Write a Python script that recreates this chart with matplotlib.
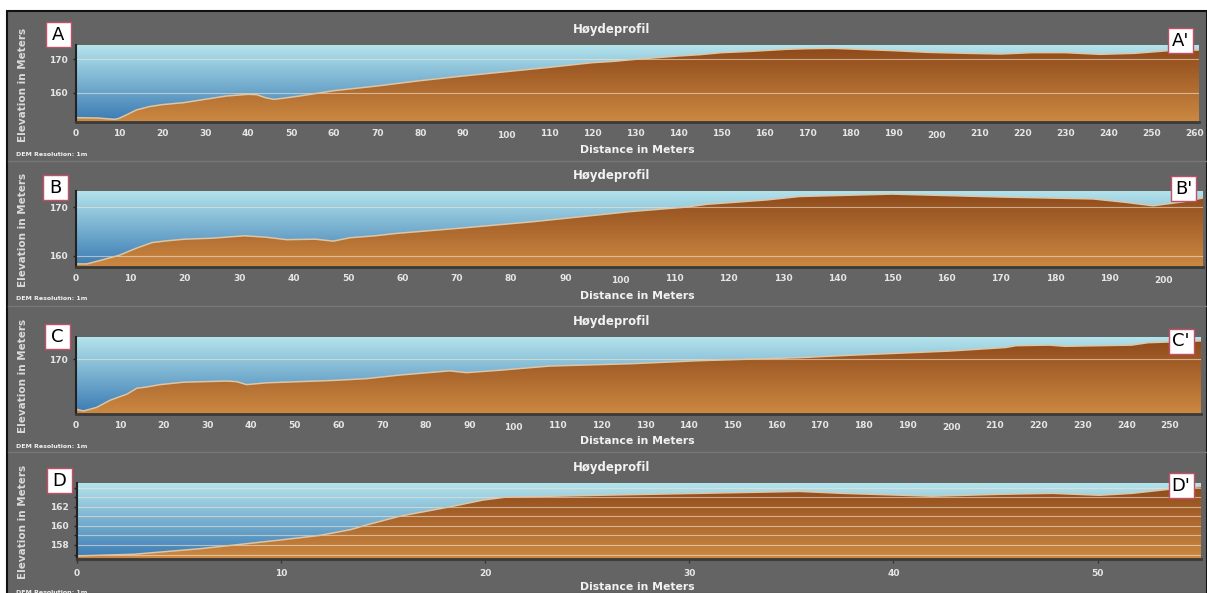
import numpy as np
import matplotlib
matplotlib.use("Agg")
import matplotlib.pyplot as plt
from matplotlib.patches import Rectangle
from matplotlib.colors import to_rgb

# ---------------- data ----------------
dist_a = [0, 5, 7, 9, 10, 12, 14, 17, 20, 25, 30, 35, 40, 42, 44, 46, 48, 52, 60, 70, 75, 80, 90,
          100, 110, 120, 125, 130, 140, 145, 150, 157, 165, 170, 176, 182, 190, 198, 207, 215,
          222, 230, 238, 246, 254, 261]
elev_a = [152.5, 152.4, 152.2, 152.0, 152.3, 153.5, 154.8, 155.8, 156.4, 157.0, 158.0, 159.0,
          159.5, 159.4, 158.5, 158.0, 158.3, 159.0, 160.6, 162.0, 162.8, 163.6, 165.0, 166.3,
          167.6, 169.0, 169.4, 170.0, 171.0, 171.4, 172.0, 172.4, 173.0, 173.2, 173.3, 173.0,
          172.6, 172.1, 171.8, 171.6, 172.0, 172.0, 171.5, 171.8, 172.6, 172.8]

dist_b = [0, 2, 4.4, 8, 11, 14, 17, 20, 25, 31, 35, 38.7, 44, 47.3, 50.4, 55, 59, 72, 84, 96,
          102, 112, 116, 121, 127, 133, 150, 170, 187, 193, 198, 203.5, 207.2]
elev_b = [158.3, 158.3, 159.0, 160.1, 161.5, 162.7, 163.1, 163.4, 163.6, 164.1, 163.8, 163.3,
          163.4, 163.0, 163.7, 164.1, 164.6, 165.8, 167.0, 168.4, 169.1, 170.0, 170.6, 171.0,
          171.5, 172.2, 172.7, 172.1, 171.7, 171.0, 170.3, 171.1, 171.9]

dist_c = [0, 1.7, 4.7, 7.8, 11.6, 13.9, 16.1, 19.2, 24.5, 34.4, 36.7, 39, 43.5, 58.7, 66.4,
          74, 85.4, 89.2, 96.8, 108.2, 127.2, 142.5, 165.3, 176.7, 199.5, 212.5, 214.8, 222.4,
          226, 241.3, 245, 257.1]
elev_c = [161.7, 161.4, 162.0, 163.2, 164.2, 165.2, 165.4, 165.8, 166.2, 166.4, 166.3, 165.8,
          166.1, 166.5, 166.8, 167.4, 168.1, 167.8, 168.2, 168.9, 169.3, 169.8, 170.3, 170.7,
          171.4, 172.0, 172.3, 172.4, 172.2, 172.4, 172.8, 173.1]

dist_d = [0, 2.8, 6, 9.9, 11.9, 13.4, 14.2, 15.8, 18.3, 19.9, 21, 25.6, 30.5, 35.4, 37.5, 41.9,
          45.2, 47.8, 50.1, 51.7, 53.4, 55.07]
elev_d = [156.85, 157.03, 157.6, 158.5, 159.0, 159.6, 160.1, 161.0, 162.0, 162.7, 163.0, 163.2,
          163.4, 163.6, 163.4, 163.1, 163.3, 163.4, 163.2, 163.4, 163.8, 164.1]

xticks_a = list(range(0, 261, 10))
xticks_b = list(range(0, 201, 10))
xticks_c = list(range(0, 251, 10))
xticks_d = [0, 10, 20, 30, 40, 50]
yticks_a = [160, 170]
yticks_b = [160, 170]
yticks_c = [170]
yticks_d = [158, 160, 162]
ygrid_d = [157, 158, 159, 160, 161, 162, 163, 164]

start_labels = ["A", "B", "C", "D"]
end_labels = ["A'", "B'", "C'", "D'"]
title_text = "Høydeprofil"
xlabel_text = "Distance in Meters"
ylabel_text = "Elevation in Meters"
note_text = "DEM Resolution: 1m"

# ---------------- layout ----------------
W, H = 1207, 593
fig = plt.figure(figsize=(W / 100, H / 100), dpi=100, facecolor="white")

BG = "#646464"
bg = fig.add_axes([0, 0, 1, 1], zorder=-5)
bg.set_xlim(0, W); bg.set_ylim(H, 0); bg.axis("off")
bg.add_patch(Rectangle((7, 11), W - 7, H - 10, facecolor=BG, edgecolor="#111111", lw=1.5))
for ys in [161, 306, 452]:
    bg.plot([8, W], [ys, ys], color="#767676", lw=1)

def rect(x0, y0, x1, y1):
    return [x0 / W, 1 - y1 / H, (x1 - x0) / W, (y1 - y0) / H]

sky_top, sky_bot = to_rgb("#b4e4ec"), to_rgb("#3a7ab3")
gr_top, gr_bot = to_rgb("#8c4719"), to_rgb("#cc8942")

def grad(c_bot, c_top, n=256):
    t = np.linspace(0, 1, n)[:, None]
    arr = (1 - t) * np.array(c_bot)[None, :] + t * np.array(c_top)[None, :]
    return arr[:, None, :]

panels = [
    dict(d=dist_a, e=elev_a, pos=(76, 45, 1199, 122), xl=(0, 261), yl=(151.2, 174.3),
         xt=xticks_a, yt=yticks_a, grid=yticks_a, big=(100, 200)),
    dict(d=dist_b, e=elev_b, pos=(76, 190.7, 1203, 267.3), xl=(0, 207.2), yl=(157.6, 173.4),
         xt=xticks_b, yt=yticks_b, grid=yticks_b, big=(100, 200)),
    dict(d=dist_c, e=elev_c, pos=(76, 337.3, 1201, 414), xl=(0, 257.1), yl=(160.9, 173.7),
         xt=xticks_c, yt=yticks_c, grid=yticks_c, big=(100, 200)),
    dict(d=dist_d, e=elev_d, pos=(77, 483.3, 1201, 559.3), xl=(0, 55.07), yl=(156.5, 164.45),
         xt=xticks_d, yt=yticks_d, grid=ygrid_d, big=None),
]

tick_font = dict(family="DejaVu Sans", weight="bold", size=6.5)
for p in panels:
    ax = fig.add_axes(rect(*p["pos"]))
    ax.set_xlim(*p["xl"]); ax.set_ylim(*p["yl"])
    x0, x1 = p["xl"]; y0, y1 = p["yl"]
    ax.imshow(grad(sky_bot, sky_top), extent=[x0, x1, y0, y1], aspect="auto",
              origin="lower", zorder=0, interpolation="bilinear")
    poly = ax.fill_between(p["d"], p["e"], y0, color="none", lw=0)
    im = ax.imshow(grad(gr_bot, gr_top), extent=[x0, x1, y0, y1], aspect="auto",
                   origin="lower", zorder=1, interpolation="bilinear")
    im.set_clip_path(poly.get_paths()[0], transform=ax.transData)
    ax.plot(p["d"], p["e"], color="#dcc6a6", lw=1.1, zorder=3)
    for g in p["grid"]:
        ax.axhline(g, color="#f4e6d6", lw=0.8, alpha=0.6, zorder=2)
    ax.set_xlim(*p["xl"]); ax.set_ylim(*p["yl"])

    for s in ["top", "right"]:
        ax.spines[s].set_visible(False)
    ax.spines["left"].set_color("#222222"); ax.spines["left"].set_linewidth(1.5)
    ax.spines["bottom"].set_color("#3a3a3a"); ax.spines["bottom"].set_linewidth(2)
    ax.spines["left"].set_zorder(5); ax.spines["bottom"].set_zorder(5)

    ax.set_yticks(p["yt"])
    ax.set_yticklabels([str(v) for v in p["yt"]], color="#e6e6e6", **tick_font)
    ax.tick_params(axis="y", length=2.5, width=1, color="#222222", pad=3.5, direction="out")
    if p["big"] is None:
        minor = [g for g in p["grid"] if g not in p["yt"]]
        ax.set_yticks(minor, minor=True)
        ax.tick_params(axis="y", which="minor", length=2.5, width=1, color="#222222")

    ax.set_xticks(p["xt"])
    ax.set_xticklabels([str(v) for v in p["xt"]], color="#e6e6e6", **tick_font)
    if p["big"] is None:
        ax.tick_params(axis="x", length=3, width=1, color="#333333", pad=4)
    else:
        ax.tick_params(axis="x", length=0, width=1, color="#333333", pad=5)
        for v, tk in zip(p["xt"], ax.xaxis.get_major_ticks()):
            if v in p["big"]:
                tk.tick1line.set_markersize(3)
                tk.set_pad(6.5)

# ---------------- overlay texts ----------------
ov = fig.add_axes([0, 0, 1, 1], zorder=10)
ov.set_xlim(0, W); ov.set_ylim(H, 0); ov.axis("off"); ov.patch.set_alpha(0)

title_y = [29, 175, 321, 467]
xlab_y = [150, 296, 441, 587]
ylab_y = [85, 230, 376, 522]
note_y = [155, 298, 446, 592]
start_box = [(58, 34.5), (55.5, 187.5), (57, 336.5), (59, 480)]
end_box = [(1180.5, 40.5), (1183.5, 188.7), (1181, 341), (1181, 485.5)]

for i in range(4):
    ov.text(612, title_y[i], title_text, ha="center", va="center", color="#f2f2f2",
            fontsize=8.5, fontweight="bold", family="DejaVu Sans")
    ov.text(637, xlab_y[i], xlabel_text, ha="center", va="center", color="#f2f2f2",
            fontsize=7.8, fontweight="bold", family="DejaVu Sans")
    ov.text(23, ylab_y[i], ylabel_text, ha="center", va="center", rotation=90,
            color="#dadada", fontsize=7.5, fontweight="bold", family="DejaVu Sans")
    ov.text(16, note_y[i], note_text, ha="left", va="center", color="#f0f0f0",
            fontsize=4.5, fontweight="bold", family="DejaVu Sans")
    for (cx, cy), lab in [(start_box[i], start_labels[i]), (end_box[i], end_labels[i])]:
        ov.add_patch(Rectangle((cx - 12.5, cy - 12.5), 25, 25, facecolor="white",
                               edgecolor="#c05068", lw=1))
        ov.text(cx, cy + 0.5, lab, ha="center", va="center", color="black",
                fontsize=13, family="DejaVu Sans")

fig.savefig("out.png", dpi=100, facecolor="white")
